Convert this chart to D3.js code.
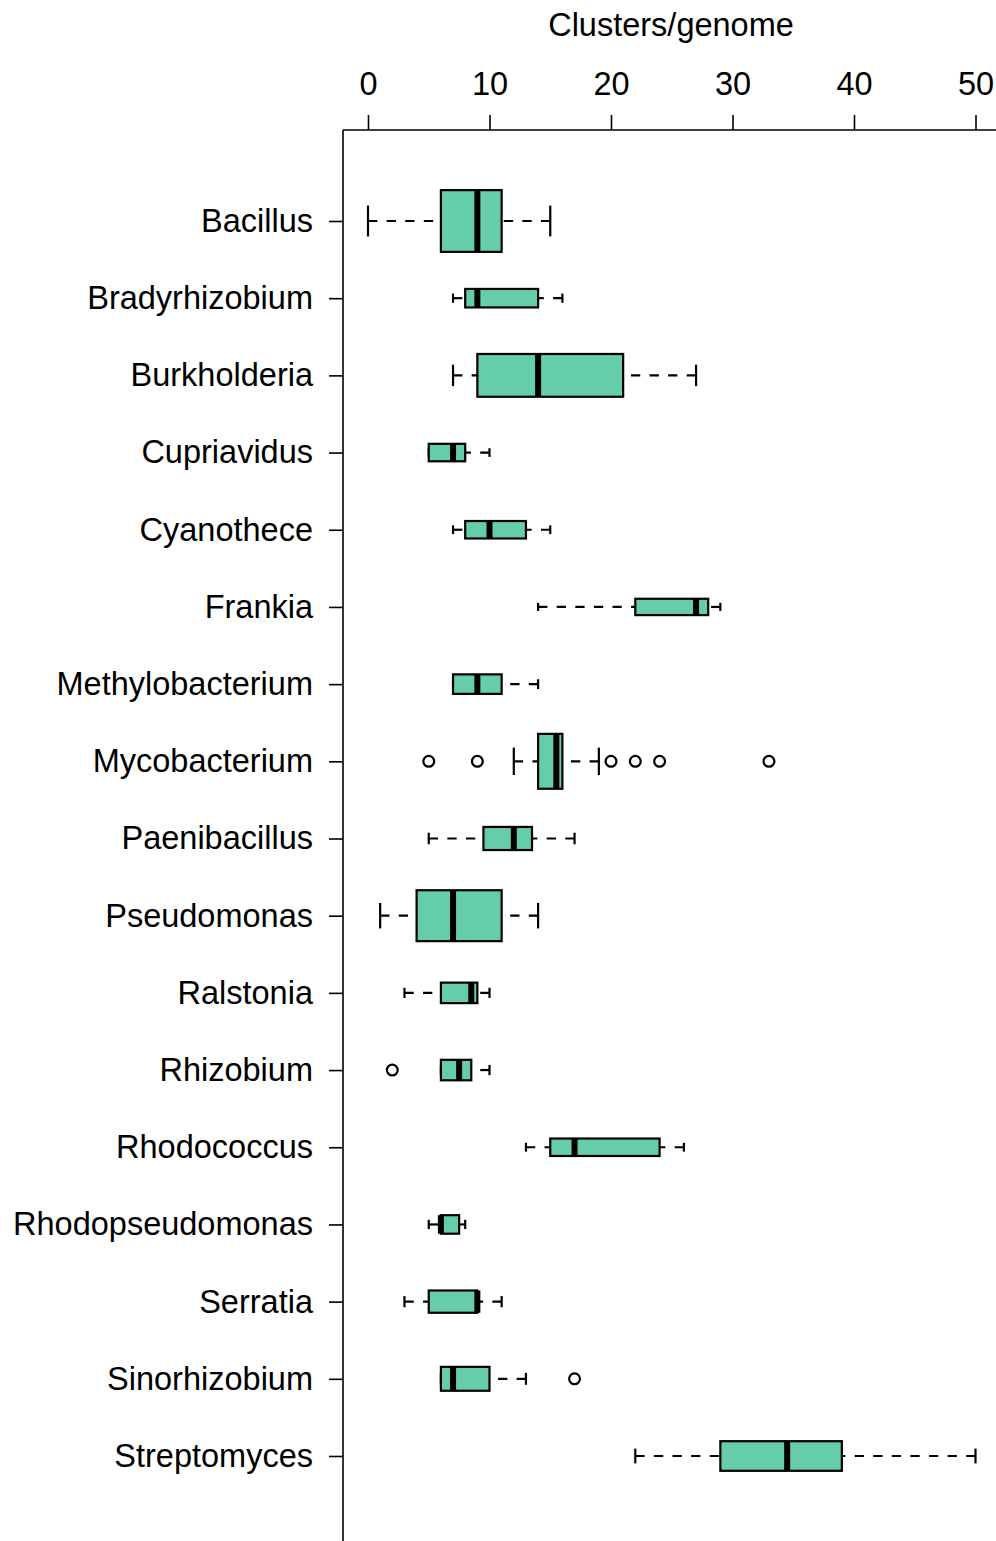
<!DOCTYPE html>
<html>
<head>
<meta charset="utf-8">
<script src="https://cdn.jsdelivr.net/npm/d3@7/dist/d3.min.js"></script>
<style>
    body { margin: 0; background: #fff; }
    text { font-family: "Liberation Sans", Arial, Helvetica, sans-serif; }
</style>
</head>
<body>
<div id="chart"></div>
<script>
// data
var categories = ["Bacillus", "Bradyrhizobium", "Burkholderia", "Cupriavidus", "Cyanothece",
    "Frankia", "Methylobacterium", "Mycobacterium", "Paenibacillus", "Pseudomonas",
    "Ralstonia", "Rhizobium", "Rhodococcus", "Rhodopseudomonas", "Serratia",
    "Sinorhizobium", "Streptomyces"];
var lowWhisker = [0, 7, 7, 5, 7, 14, 7, 12, 5, 1, 3, 6, 13, 5, 3, 6, 22];
var q1 = [6, 8, 9, 5, 8, 22, 7, 14, 9.5, 4, 6, 6, 15, 6, 5, 6, 29];
var medians = [9, 9, 14, 7, 10, 27, 9, 15.5, 12, 7, 8.5, 7.5, 17, 6, 9, 7, 34.5];
var q3 = [11, 14, 21, 8, 13, 28, 11, 16, 13.5, 11, 9, 8.5, 24, 7.5, 9, 10, 39];
var highWhisker = [15, 16, 27, 10, 15, 29, 14, 19, 17, 14, 10, 10, 26, 8, 11, 13, 50];
// genomes per genus (box height ~ sqrt(n), estimated)
var genomeCounts = [100, 9, 48, 8, 8, 7, 10, 79, 14, 68, 11, 11, 8, 9, 13, 15, 23];
var outlierValues = [[], [], [], [], [], [], [], [5, 9, 20, 22, 24, 33], [], [], [], [2], [], [], [], [17], []];
var xTicks = [0, 10, 20, 30, 40, 50];
var xTitle = "Clusters/genome";

var attrs = {
    width: 996,
    height: 1541,
    plotLeft: 343,
    plotRight: 999,
    plotTop: 130,
    fill: "#66CDAA",
    fontSize: 32.5
};

var data = categories.map(function (c, i) {
    return {
        name: c, lo: lowWhisker[i], q1: q1[i], med: medians[i], q3: q3[i],
        hi: highWhisker[i], n: genomeCounts[i], out: outlierValues[i]
    };
});

var x = d3.scaleLinear().domain([0, 50]).range([368, 975.5]);
var y = d3.scalePoint().domain(categories).range([221, 1456]);
var maxN = d3.max(genomeCounts);
var boxH = function (d) { return 0.8 * y.step() * Math.sqrt(d.n / maxN); };

//drawing
var svg = d3.select("#chart")
    .append("svg")
    .attr("width", attrs.width)
    .attr("height", attrs.height);

// frame: top and left lines
svg.append("line")
    .attr("x1", attrs.plotLeft).attr("x2", attrs.width)
    .attr("y1", attrs.plotTop).attr("y2", attrs.plotTop)
    .attr("stroke", "#000").attr("stroke-width", 1.6);
svg.append("line")
    .attr("x1", attrs.plotLeft).attr("x2", attrs.plotLeft)
    .attr("y1", attrs.plotTop).attr("y2", attrs.height)
    .attr("stroke", "#000").attr("stroke-width", 1.6);

// top axis
var xAxis = svg.append("g")
    .attr("transform", "translate(0," + attrs.plotTop + ")")
    .call(d3.axisTop(x).tickValues(xTicks).tickSize(15).tickPadding(20).tickFormat(d3.format("d")));
xAxis.select(".domain").remove();
xAxis.selectAll("line").attr("stroke-width", 1.6);
xAxis.selectAll("text").attr("font-size", attrs.fontSize).attr("fill", "#000");

svg.append("text")
    .attr("x", (attrs.plotLeft + attrs.plotRight) / 2)
    .attr("y", 36)
    .attr("text-anchor", "middle")
    .attr("font-size", attrs.fontSize)
    .text(xTitle);

// left axis
var yAxis = svg.append("g")
    .attr("transform", "translate(" + attrs.plotLeft + ",0)")
    .call(d3.axisLeft(y).tickSize(14).tickPadding(16));
yAxis.select(".domain").remove();
yAxis.selectAll("line").attr("stroke-width", 1.6);
yAxis.selectAll("text").attr("font-size", attrs.fontSize).attr("fill", "#000");

var group = svg.selectAll(".box")
    .data(data)
    .enter()
    .append("g")
    .classed("box", true)
    .attr("transform", function (d) { return "translate(0," + y(d.name) + ")"; });

// whiskers, drawn from the whisker end towards the box
group.append("line")
    .attr("x1", function (d) { return x(d.lo); })
    .attr("x2", function (d) { return x(d.q1); })
    .attr("stroke", "#000").attr("stroke-width", 2.2)
    .attr("stroke-dasharray", "9.3,9.3");
group.append("line")
    .attr("x1", function (d) { return x(d.hi); })
    .attr("x2", function (d) { return x(d.q3); })
    .attr("stroke", "#000").attr("stroke-width", 2.2)
    .attr("stroke-dasharray", "9.3,9.3");

// staples
["lo", "hi"].forEach(function (k) {
    group.append("line")
        .attr("x1", function (d) { return x(d[k]); })
        .attr("x2", function (d) { return x(d[k]); })
        .attr("y1", function (d) { return -boxH(d) / 4; })
        .attr("y2", function (d) { return boxH(d) / 4; })
        .attr("stroke", "#000").attr("stroke-width", 2.2);
});

group.append("rect")
    .attr("x", function (d) { return x(d.q1); })
    .attr("width", function (d) { return x(d.q3) - x(d.q1); })
    .attr("y", function (d) { return -boxH(d) / 2; })
    .attr("height", boxH)
    .attr("fill", attrs.fill)
    .attr("stroke", "#000").attr("stroke-width", 2.2);

group.append("line")
    .attr("x1", function (d) { return x(d.med); })
    .attr("x2", function (d) { return x(d.med); })
    .attr("y1", function (d) { return -boxH(d) / 2; })
    .attr("y2", function (d) { return boxH(d) / 2; })
    .attr("stroke", "#000").attr("stroke-width", 6);

group.selectAll("circle")
    .data(function (d) { return d.out; })
    .enter()
    .append("circle")
    .attr("cx", function (v) { return x(v); })
    .attr("cy", 0)
    .attr("r", 5.4)
    .attr("fill", "none")
    .attr("stroke", "#000").attr("stroke-width", 2.2);
</script>
</body>
</html>
